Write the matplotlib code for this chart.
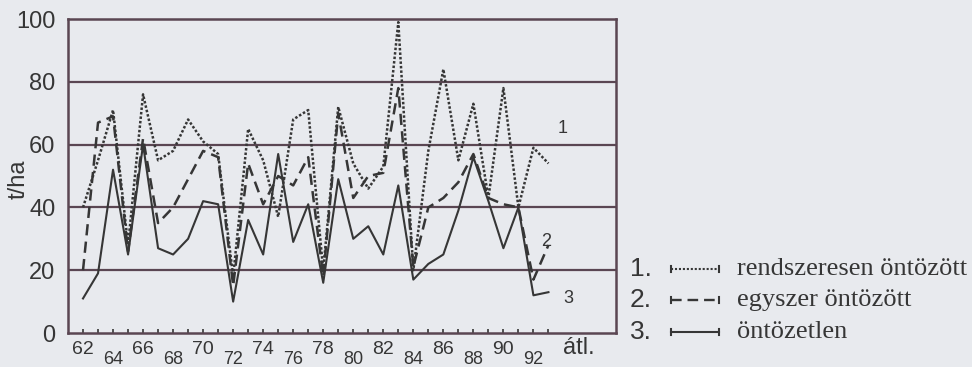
import matplotlib
matplotlib.use("Agg")
import matplotlib.pyplot as plt
from matplotlib import transforms
from matplotlib.lines import Line2D

# ---- data -------------------------------------------------------------
years = list(range(62, 94))
rendszeresen = [40, 55, 71, 28, 76, 55, 58, 68, 61, 57, 18, 65, 55, 37, 68, 71,
                20, 72, 54, 46, 53, 99, 20, 58, 84, 55, 73, 43, 78, 40, 59, 54]
egyszer = [20, 67, 69, 26, 62, 35, 40, 49, 58, 56, 15, 54, 41, 50, 47, 56,
           18, 70, 43, 50, 51, 78, 21, 40, 43, 48, 57, 43, 41, 40, 17, 28]
ontozetlen = [11, 19, 52, 25, 60, 27, 25, 30, 42, 41, 10, 36, 25, 57, 29, 41,
              16, 49, 30, 34, 25, 47, 17, 22, 25, 39, 56, 42, 27, 40, 12, 13]
y_ticks = [0, 20, 40, 60, 80, 100]
x_labels_row1 = [62, 66, 70, 74, 78, 82, 86, 90]
x_labels_row2 = [64, 68, 72, 76, 80, 84, 88, 92]
avg_label_year = 95
avg_label = "átl."
series_numbers = ["1", "2", "3"]
series_number_pos = [(93.6, 65), (92.5, 29), (94.0, 11)]
legend_names = ["rendszeresen öntözött", "egyszer öntözött", "öntözetlen"]
y_label = "t/ha"

# ---- style ------------------------------------------------------------
BG = "#e8eaee"
FRAME = "#5a4652"
INK = "#363636"
SANS = ["Liberation Sans", "DejaVu Sans"]
SERIF = ["Liberation Serif", "DejaVu Serif"]

W, H = 972, 367
fig = plt.figure(figsize=(W / 100, H / 100), dpi=100, facecolor=BG)
ax = fig.add_axes([68 / W, 34 / H, 548 / W, 314 / H], facecolor=BG)

ax.set_xlim(61, 97.5)
ax.set_ylim(0, 100)

for v in y_ticks[1:-1]:
    ax.axhline(v, color=FRAME, lw=1.6, zorder=1)

ax.plot(years, rendszeresen, color=INK, lw=1.8, dashes=(1.0, 0.8), zorder=3)
ax.plot(years, egyszer, color=INK, lw=1.8, dashes=(4.5, 2.5), zorder=3)
ax.plot(years, ontozetlen, color=INK, lw=1.5, zorder=3)

for s in ax.spines.values():
    s.set_color(FRAME)
    s.set_linewidth(1.8)

ax.set_yticks(y_ticks)
ax.set_yticklabels([str(v) for v in y_ticks], fontsize=17, family=SANS, color=INK)
ax.tick_params(axis="y", length=0, pad=9)

ax.set_xticks(years)
ax.set_xticklabels([])
ax.tick_params(axis="x", direction="in", length=3, width=1.2, color=INK)

ty = transforms.blended_transform_factory(fig.transFigure, ax.transData)
ax.text(19 / W, 49, y_label, transform=ty, rotation=90, ha="center", va="center",
        fontsize=17, family=SANS, color=INK, clip_on=False)

tr = transforms.blended_transform_factory(ax.transData, fig.transFigure)
for yr in x_labels_row1:
    ax.text(yr, (H - 349) / H, str(yr), transform=tr, ha="center", va="center",
            fontsize=14, family=SANS, color=INK, clip_on=False)
for yr in x_labels_row2:
    ax.text(yr, (H - 359) / H, str(yr), transform=tr, ha="center", va="center",
            fontsize=13, family=SANS, color=INK, clip_on=False)
ax.text(avg_label_year, (H - 348) / H, avg_label, transform=tr, ha="center",
        va="center", fontsize=17, family=SANS, color=INK, clip_on=False)

for lab, (xx, yy) in zip(series_numbers, series_number_pos):
    ax.text(xx, yy, lab, ha="left", va="center", fontsize=13, family=SANS,
            color=INK)

# ---- legend (drawn in figure pixels) -----------------------------------
styles = [dict(dashes=(1.0, 0.9), lw=1.5), dict(dashes=(4.5, 2.5), lw=1.7),
          dict(lw=1.5)]
rows_y = [269, 300, 332]
for i, (name, st, ry) in enumerate(zip(legend_names, styles, rows_y)):
    yf = (H - ry) / H
    fig.text(641 / W, yf, f"{i + 1}.", ha="center", va="center", fontsize=19,
             family=SANS, color=INK)
    x0, x1 = 671 / W, 719 / W
    fig.add_artist(Line2D([x0, x1], [yf, yf], color=INK, **st))
    for xe in (x0, x1):
        fig.add_artist(Line2D([xe, xe], [yf - 3 / H, yf + 3 / H], color=INK,
                              lw=1.5))
    fig.text(737 / W, yf, name, ha="left", va="center", fontsize=19,
             family=SERIF, color=INK)

fig.savefig("out.png", dpi=100, facecolor=BG)
